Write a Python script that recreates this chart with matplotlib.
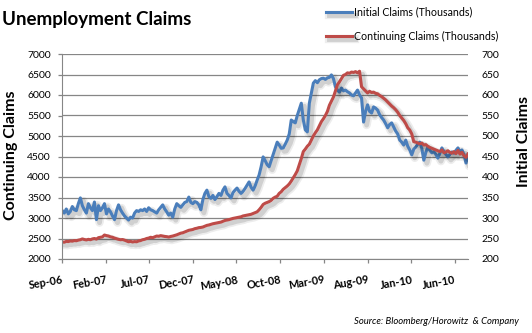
import numpy as np
import pandas as pd
import matplotlib
matplotlib.use('Agg')
from matplotlib import pyplot as plt
import matplotlib.dates as mdates
import matplotlib.patheffects as pe

plt.rcParams['font.family'] = ['Lato', 'DejaVu Sans']

# weekly claims, thousands (seasonally adjusted)
start_week = '2006-09-02'

initial_claims = [
    318, 312, 322, 310, 316, 328, 320, 318, 335, 349, 330, 320, 312,
    335, 325, 318, 339, 296, 330, 318, 325, 335, 310, 322, 315, 305,
    296, 318, 332, 320, 312, 305, 300, 295, 302, 300, 312, 318, 316,
    320, 318, 322, 316, 325, 320, 318, 315, 312, 320, 326, 332, 322,
    315, 307, 312, 302, 322, 335, 330, 326, 332, 338, 340, 351, 338,
    335, 340, 338, 332, 320, 345, 360, 368, 352, 348, 355, 345, 352,
    360, 355, 368, 376, 360, 355, 349, 362, 368, 373, 365, 360, 365,
    372, 380, 388, 375, 368, 378, 392, 405, 425, 449, 440, 430, 425,
    440, 455, 470, 485, 478, 470, 471, 480, 490, 505, 539, 535, 532,
    550, 565, 580, 539, 515, 510, 580, 605, 629, 635, 630, 637, 640,
    641, 638, 642, 643, 649, 640, 620, 612, 607, 617, 610, 612, 608,
    605, 600, 598, 605, 612, 600, 593, 534, 560, 576, 560, 556, 571,
    568, 563, 552, 545, 539, 530, 520, 528, 532, 522, 512, 505, 490,
    485, 478, 490, 475, 466, 454, 468, 473, 480, 485, 470, 441, 460,
    473, 465, 459, 462, 455, 446, 458, 471, 462, 455, 449, 455, 461,
    458, 465, 471, 462, 466, 455, 434, 455,
]

continuing_claims = [
    2415, 2410, 2430, 2425, 2440, 2435, 2450, 2445, 2460, 2470, 2490, 2475, 2465,
    2480, 2470, 2490, 2500, 2485, 2520, 2530, 2540, 2585, 2570, 2560, 2540, 2530,
    2510, 2495, 2480, 2470, 2475, 2460, 2440, 2420, 2430, 2415, 2425, 2420, 2440,
    2450, 2470, 2480, 2500, 2510, 2530, 2520, 2540, 2560, 2555, 2570, 2560, 2550,
    2545, 2535, 2550, 2560, 2575, 2590, 2610, 2630, 2640, 2660, 2680, 2700, 2710,
    2720, 2740, 2750, 2765, 2770, 2780, 2800, 2820, 2830, 2845, 2860, 2870, 2880,
    2890, 2900, 2920, 2940, 2950, 2960, 2975, 2990, 3000, 3010, 3020, 3030, 3050,
    3060, 3070, 3080, 3090, 3110, 3130, 3150, 3200, 3260, 3330, 3360, 3380, 3400,
    3430, 3480, 3510, 3530, 3600, 3640, 3700, 3740, 3780, 3830, 3900, 3980, 4060,
    4150, 4300, 4450, 4620, 4680, 4750, 4800, 4900, 5000, 5080, 5150, 5250, 5350,
    5420, 5500, 5600, 5750, 5850, 5950, 6100, 6250, 6320, 6400, 6480, 6500, 6540,
    6530, 6560, 6550, 6570, 6540, 6580, 6200, 6150, 6100, 6050, 6090, 6060, 6070,
    6040, 6030, 5990, 5960, 5920, 5880, 5830, 5780, 5730, 5690, 5640, 5580, 5500,
    5440, 5380, 5300, 5200, 5146, 5050, 4860, 4850, 4830, 4810, 4830, 4780, 4790,
    4750, 4720, 4700, 4680, 4660, 4640, 4620, 4660, 4590, 4610, 4640, 4600, 4580,
    4620, 4570, 4650, 4560, 4600, 4520, 4480, 4560,
]

tick_months = ['2006-09-01', '2007-02-01', '2007-07-01', '2007-12-01', '2008-05-01',
               '2008-10-01', '2009-03-01', '2009-08-01', '2010-01-01', '2010-06-01']

weeks = pd.date_range(start_week, periods=len(initial_claims), freq='7D')

BLUE = '#4a7ebb'
RED = '#be4b48'
GRID = '#868686'


def shadowed():
    return [pe.SimpleLineShadow(offset=(2.2, -2.2), shadow_color='k', alpha=0.07, linewidth=6),
            pe.SimpleLineShadow(offset=(2.2, -2.2), shadow_color='k', alpha=0.12, linewidth=3.5),
            pe.Normal()]


fig = plt.figure(figsize=(5.32, 3.33), dpi=100)
ax = fig.add_axes([62 / 532, 1 - 259 / 333, 406 / 532, 205 / 333])
ax2 = ax.twinx()
# continuing claims drawn above initial claims
ax.set_zorder(ax2.get_zorder() + 1)
ax.patch.set_visible(False)

l_init, = ax2.plot(weeks, initial_claims, color=BLUE, lw=2.2,
                   solid_joinstyle='round', path_effects=shadowed())
l_cont, = ax.plot(weeks, continuing_claims, color=RED, lw=2.2,
                  solid_joinstyle='round', path_effects=shadowed())

ax.set_ylim(2000, 7000)
ax.set_yticks(np.arange(2000, 7001, 500))
ax2.set_ylim(200, 700)
ax2.set_yticks(np.arange(200, 701, 50))
ax2.grid(axis='y', color=GRID, lw=0.9)
ax2.set_axisbelow(True)

ax.set_xlim(weeks[0], weeks[-1])
ax.set_xticks(pd.to_datetime(tick_months))
ax.xaxis.set_major_formatter(mdates.DateFormatter('%b-%y'))

for a in (ax, ax2):
    for side in ('top', 'right', 'left', 'bottom'):
        a.spines[side].set_visible(False)
ax.spines['left'].set_visible(True)
ax.spines['bottom'].set_visible(True)
ax.spines['left'].set_color(GRID)
ax.spines['bottom'].set_color(GRID)

ax.tick_params(axis='y', direction='out', length=3, width=0.9, color=GRID,
               labelsize=7.5, pad=5)
ax.tick_params(axis='x', direction='out', length=3, width=0.9, color=GRID,
               labelsize=7.8, pad=8)
ax2.tick_params(axis='y', length=0, labelsize=7.5, pad=10)
for lbl in ax.get_xticklabels():
    lbl.set_rotation(10)
    lbl.set_ha('right')
    lbl.set_rotation_mode('anchor')
    lbl.set_fontweight('bold')

fig.text(0.004, 1 - 20 / 333, 'Unemployment Claims', fontsize=13.5,
         fontweight='bold', va='center', ha='left')
fig.text(11 / 532, 1 - 155 / 333, 'Continuing Claims', rotation=90,
         fontsize=11.5, fontweight='bold', va='center', ha='center')
fig.text(524 / 532, 1 - 142 / 333, 'Initial Claims', rotation=90,
         fontsize=11.5, fontweight='bold', va='center', ha='center')
fig.text(519 / 532, 1 - 322 / 333, 'Source: Bloomberg/Horowitz  & Company',
         fontsize=6.8, style='italic', va='center', ha='right')

fig.legend([l_init, l_cont],
           ['Initial Claims (Thousands)', 'Continuing Claims (Thousands)'],
           loc='upper left', bbox_to_anchor=(320 / 532, 1.0), frameon=False,
           fontsize=7.7, handlelength=2.4, handletextpad=0.15,
           labelspacing=1.25, borderaxespad=0.2)

fig.savefig('out.png', dpi=100)
